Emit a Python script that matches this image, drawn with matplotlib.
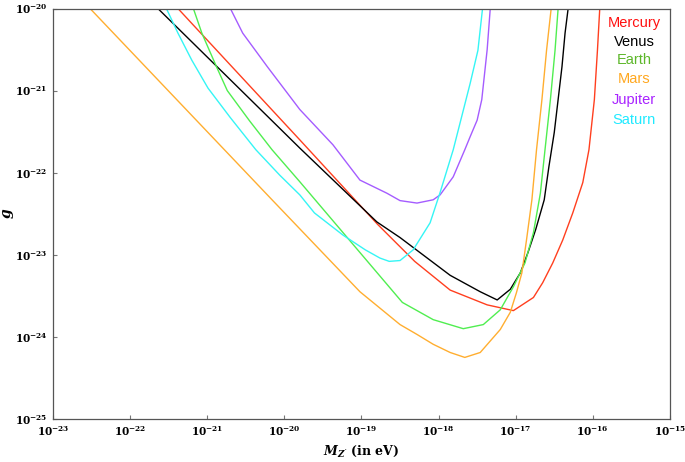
import matplotlib
matplotlib.use("Agg")
import matplotlib.pyplot as plt
import numpy as np

# log10 of mass (eV) and log10 of coupling g
mercury_x = [-21.38, -19.80, -18.79, -18.31, -17.85, -17.37, -17.03, -16.77, -16.65, -16.52, -16.39, -16.26, -16.13, -16.05, -15.98, -15.94, -15.91]
mercury_y = [-20.00, -21.60, -22.63, -23.08, -23.43, -23.61, -23.68, -23.52, -23.34, -23.10, -22.82, -22.49, -22.12, -21.72, -21.11, -20.51, -20.00]

venus_x = [-21.64, -19.80, -18.80, -18.50, -17.85, -17.46, -17.24, -17.07, -16.94, -16.84, -16.74, -16.63, -16.57, -16.50, -16.45, -16.40, -16.36, -16.32]
venus_y = [-20.00, -21.70, -22.60, -22.79, -23.25, -23.45, -23.55, -23.42, -23.22, -22.97, -22.69, -22.33, -21.93, -21.51, -21.11, -20.71, -20.30, -20.00]

earth_x = [-21.18, -21.07, -20.88, -20.74, -20.45, -20.16, -19.80, -18.47, -18.07, -17.68, -17.42, -17.20, -17.03, -16.88, -16.77, -16.68, -16.62, -16.55, -16.49, -16.45]
earth_y = [-20.00, -20.30, -20.71, -21.00, -21.37, -21.72, -22.11, -23.58, -23.79, -23.90, -23.85, -23.67, -23.39, -23.10, -22.73, -22.25, -21.72, -21.11, -20.51, -20.00]

mars_x = [-22.52, -20.16, -19.02, -18.50, -18.28, -18.07, -17.85, -17.66, -17.46, -17.20, -17.07, -16.99, -16.92, -16.86, -16.79, -16.73, -16.66, -16.60, -16.54]
mars_y = [-20.00, -22.33, -23.45, -23.85, -23.97, -24.09, -24.19, -24.25, -24.19, -23.91, -23.70, -23.46, -23.22, -22.82, -22.33, -21.72, -21.11, -20.51, -20.00]

jupiter_x = [-20.70, -20.54, -20.22, -19.80, -19.37, -19.02, -18.67, -18.50, -18.28, -18.07, -17.98, -17.81, -17.66, -17.59, -17.50, -17.44, -17.37, -17.33]
jupiter_y = [-20.00, -20.30, -20.71, -21.23, -21.66, -22.09, -22.25, -22.34, -22.37, -22.33, -22.27, -22.05, -21.72, -21.56, -21.36, -21.11, -20.50, -20.00]

saturn_x = [-21.53, -21.38, -21.20, -20.99, -20.70, -20.37, -20.06, -19.80, -19.61, -19.24, -18.95, -18.76, -18.64, -18.50, -18.33, -18.11, -17.98, -17.81, -17.59, -17.49, -17.43]
saturn_y = [-20.00, -20.30, -20.63, -20.97, -21.33, -21.72, -22.03, -22.27, -22.49, -22.76, -22.94, -23.04, -23.08, -23.07, -22.94, -22.61, -22.24, -21.72, -20.91, -20.51, -20.00]

planets = ["Mercury", "Venus", "Earth", "Mars", "Jupiter", "Saturn"]
line_colors = ["#ff3f1f", "#000000", "#50ee50", "#ffae30", "#a55cff", "#35f5f5"]
text_colors = ["#ff1010", "#000000", "#5db72a", "#ffa820", "#a822ff", "#20eaff"]

plt.rcParams["font.family"] = "DejaVu Serif"
plt.rcParams["font.weight"] = "bold"
plt.rcParams["mathtext.fontset"] = "custom"
plt.rcParams["mathtext.rm"] = "DejaVu Serif:bold"
plt.rcParams["mathtext.it"] = "DejaVu Serif:italic:bold"
plt.rcParams["mathtext.bf"] = "DejaVu Serif:bold"

fig = plt.figure(figsize=(6.85, 4.62), dpi=100)
ax = fig.add_axes([0.0774, 0.0931, 0.9006, 0.8885])

curves = [(mercury_x, mercury_y), (venus_x, venus_y), (earth_x, earth_y),
          (mars_x, mars_y), (jupiter_x, jupiter_y), (saturn_x, saturn_y)]
for (cx, cy), col in zip(curves, line_colors):
    ax.plot(10.0 ** np.array(cx), 10.0 ** np.array(cy), color=col, lw=1.0)

ax.set_xscale("log")
ax.set_yscale("log")
ax.set_xlim(1e-23, 1e-15)
ax.set_ylim(1e-25, 1e-20)
ax.set_xticks([10.0 ** k for k in range(-23, -14)])
ax.set_yticks([10.0 ** k for k in range(-25, -19)])
ax.minorticks_off()
ax.tick_params(direction="in", length=3, width=0.8, color="#777777", labelsize=7.6, pad=4)

for sp in ax.spines.values():
    sp.set_color("#555555")
    sp.set_linewidth(0.9)

ax.set_xlabel(r"$M_{Z'}$ (in eV)", fontsize=9, fontweight="bold", labelpad=4)
ax.set_ylabel(r"$g$", fontsize=10)
ax.yaxis.set_label_coords(-0.072, 0.5)
ax.yaxis.label.set_va("center")

# coloured planet names on the right
ys = [22.5, 41.5, 59.5, 79, 100.5, 120.5]
for name, col, yp in zip(planets, text_colors, ys):
    fig.text(634 / 685, 1 - yp / 462, name, color=col, ha="center", va="center",
             fontsize=10.5, family="Liberation Sans", fontweight="normal")

fig.savefig("out.png", dpi=100)
